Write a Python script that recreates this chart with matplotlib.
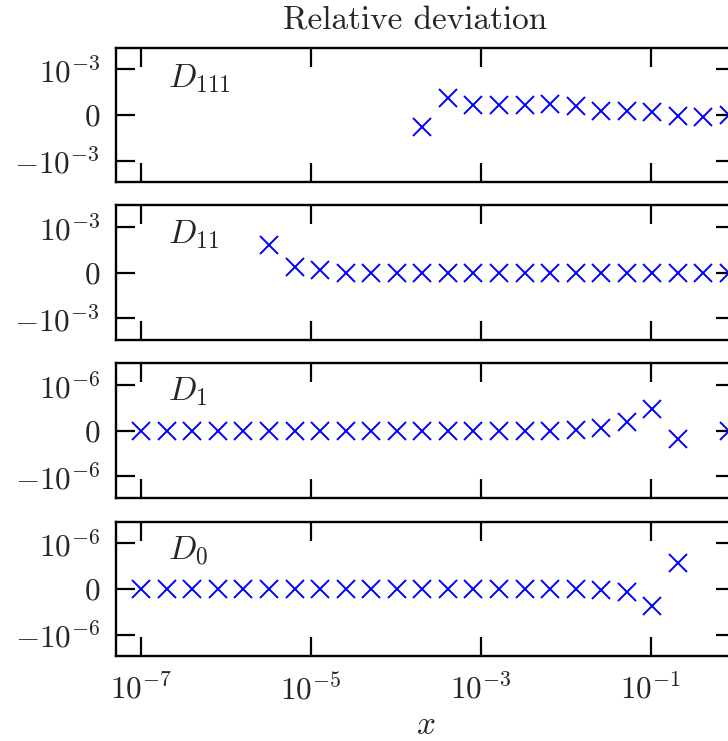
import numpy as np
import matplotlib
matplotlib.use("Agg")
import matplotlib.pyplot as plt
from matplotlib.ticker import FixedLocator, NullLocator, LogFormatterSciNotation

plt.rcParams['font.family'] = ['cmr10', 'DejaVu Serif']
plt.rcParams['mathtext.fontset'] = 'cm'
plt.rcParams['axes.formatter.use_mathtext'] = True
plt.rcParams['axes.unicode_minus'] = True

nan = np.nan

# x grid (markers spaced by a factor 2 from 1e-7)
x_vals = [1.0e-7, 2.0e-7, 4.0e-7, 8.0e-7, 1.6e-6, 3.2e-6, 6.4e-6, 1.28e-5,
          2.56e-5, 5.12e-5, 1.024e-4, 2.048e-4, 4.096e-4, 8.192e-4, 1.6384e-3,
          3.2768e-3, 6.5536e-3, 1.31072e-2, 2.62144e-2, 5.24288e-2, 0.1048576,
          0.2097152, 0.4194304, 0.8388608]

d111 = [nan, nan, nan, nan, nan, nan, nan, nan, nan, nan, nan,
        -2.6e-4, 3.7e-4, 2.2e-4, 2.2e-4, 2.2e-4, 2.35e-4, 2.05e-4,
        9.5e-5, 9.5e-5, 7.3e-5, -2.2e-5, -3.7e-5, 0.0]
d11 = [nan, nan, nan, nan, nan,
       6.0e-4, 1.2e-4, 4.9e-5, -1e-5, -1e-5, -1e-5, -1e-5, -1e-5, -1e-5,
       -1e-5, -1e-5, -1e-5, -1e-5, -1e-5, -1e-5, -1e-5, -1e-5, -1e-5, -1e-5]
d1 = [0.0, 0.0, 0.0, 0.0, 0.0, 0.0, 0.0, 0.0, 0.0, 0.0, 0.0, 0.0, 0.0, 0.0,
      0.0, 0.0, 0.0, 1.5e-8, 5.0e-8, 1.8e-7, 4.7e-7, -1.8e-7, nan, 0.0]
d0 = [0.0, 0.0, 0.0, 0.0, 0.0, 0.0, 0.0, 0.0, 0.0, 0.0, 0.0, 0.0, 0.0, 0.0,
      0.0, 0.0, 0.0, 0.0, -1.5e-8, -7.3e-8, -3.8e-7, 5.8e-7, nan, nan]

series = [d111, d11, d1, d0]
labels = [r'$D_{111}$', r'$D_{11}$', r'$D_{1}$', r'$D_{0}$']
lin_thresholds = [1e-3, 1e-3, 1e-6, 1e-6]
y_ticks = [[-1e-3, 0, 1e-3], [-1e-3, 0, 1e-3], [-1e-6, 0, 1e-6], [-1e-6, 0, 1e-6]]
x_ticks = [1e-7, 1e-5, 1e-3, 1e-1]
x_lim = (5e-8, 1.0)

W, H = 728, 741
fig = plt.figure(figsize=(W / 100, H / 100), dpi=100)

left_px, right_px = 115.7, 735.4
tops_px = [47.7, 205.3, 363.3, 521.7]
height_px = 134.6
label_base_px = [39.6, 38.0, 36.7, 37.5]

text_color = '#262626'
for i, (vals, lab, lt, yt) in enumerate(zip(series, labels, lin_thresholds, y_ticks)):
    ax = fig.add_axes([left_px / W, 1 - (tops_px[i] + height_px) / H,
                       (right_px - left_px) / W, height_px / H])
    ax.set_xscale('log')
    ax.set_yscale('symlog', linthresh=lt, linscale=1)
    ax.plot(x_vals, vals, linestyle='none', marker='x', color='#0000ff',
            markersize=13.5, markeredgewidth=1.4, clip_on=True)
    ax.set_xlim(*x_lim)
    ax.set_ylim(-3.4 * lt, 3.4 * lt)
    ax.xaxis.set_major_locator(FixedLocator(x_ticks))
    ax.xaxis.set_minor_locator(NullLocator())
    ax.yaxis.set_major_locator(FixedLocator(yt))
    ax.yaxis.set_minor_locator(NullLocator())
    ax.yaxis.set_major_formatter(LogFormatterSciNotation(base=10, linthresh=lt))
    ax.tick_params(which='major', direction='in', top=True, right=True,
                   length=13.5, width=1.6, labelsize=22.5, colors='black',
                   labelcolor=text_color)
    ax.tick_params(axis='y', pad=11)
    ax.tick_params(axis='x', pad=12)
    for sp in ax.spines.values():
        sp.set_linewidth(1.7)
        sp.set_color('black')
    if i < 3:
        ax.tick_params(axis='x', labelbottom=False)
    ax.text(52.3 / (right_px - left_px), 1 - label_base_px[i] / height_px, lab,
            transform=ax.transAxes, fontsize=24, color=text_color,
            ha='left', va='baseline')
    if i == 3:
        ax.set_xlabel(r'$x$', fontsize=24, color=text_color)
        ax.xaxis.label.set_va('baseline')
        ax.xaxis.set_label_coords(0.5, -78.0 / height_px)

fig.text(414.7 / W, 1 - 29.3 / H, 'Relative deviation', fontsize=24,
         color=text_color, ha='center', va='baseline')

fig.savefig('out.png', dpi=100)
